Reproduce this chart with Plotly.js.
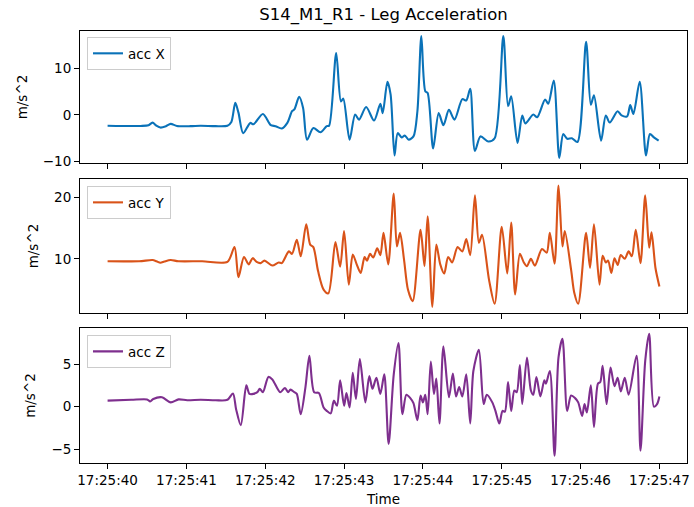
<!DOCTYPE html>
<html>
<head>
<meta charset="utf-8">
<script src="https://cdn.plot.ly/plotly-3.0.1.min.js"></script>
<style>html,body{margin:0;padding:0;background:#fff;}#chart{width:694px;height:507px;}</style>
</head>
<body>
<div id="chart"></div>
<script>
// seconds after 17:25:40
const tX = [0.00,0.42,0.52,0.57,0.62,0.67,0.74,0.80,0.88,1.05,1.18,1.37,1.52,1.57,1.62,1.66,1.72,1.81,1.85,1.97,2.07,2.13,2.21,2.28,2.34,2.37,2.43,2.48,2.53,2.61,2.70,2.78,2.81,2.90,2.96,2.99,3.07,3.14,3.19,3.28,3.38,3.46,3.49,3.55,3.59,3.64,3.68,3.73,3.77,3.82,3.88,3.93,3.98,4.03,4.06,4.13,4.20,4.26,4.33,4.40,4.50,4.55,4.60,4.66,4.73,4.83,4.91,5.02,5.08,5.12,5.20,5.26,5.30,5.40,5.45,5.55,5.59,5.66,5.73,5.78,5.83,5.89,5.96,6.07,6.13,6.17,6.26,6.32,6.37,6.47,6.52,6.59,6.63,6.67,6.75,6.83,6.88,6.93,6.99];
const accX = [-2.3,-2.35,-2.2,-1.65,-2.3,-2.7,-2.4,-1.9,-2.35,-2.4,-2.3,-2.4,-2.3,-1.5,2.6,0.5,-3.9,-1.7,-2.0,0.2,-2.2,-2.4,-2.9,-1.7,0.8,1.2,3.9,1.5,-5.3,-2.8,-3.7,-2.4,-2.3,13.3,2.9,3.5,-5.3,0.1,-1.0,1.7,-1.2,2.4,0.4,7.1,4.4,-8.7,-3.9,-4.8,-4.4,-5.3,-4.6,0.8,16.9,5.1,4.7,-7.2,0.4,-2.2,1.1,-1.0,3.4,3.1,5.6,-7.7,-4.6,-5.7,-5.0,16.9,1.9,4.0,-6.0,-0.1,-1.8,0.1,-0.5,3.3,2.4,7.4,-9.2,-4.1,-5.1,-5.0,-5.8,15.7,2.2,4.2,-5.5,-0.1,-1.6,0.8,-0.1,-0.3,2.1,0.2,7.1,-8.7,-4.1,-4.8,-5.5];

const tY = [0.00,0.40,0.57,0.62,0.67,0.72,0.80,0.90,1.20,1.52,1.61,1.66,1.73,1.79,1.84,1.89,1.94,1.99,2.09,2.17,2.21,2.30,2.34,2.40,2.45,2.52,2.57,2.61,2.67,2.74,2.80,2.89,2.95,3.00,3.06,3.11,3.16,3.21,3.26,3.29,3.33,3.37,3.42,3.46,3.50,3.56,3.63,3.67,3.71,3.76,3.81,3.87,3.97,4.02,4.06,4.12,4.17,4.22,4.27,4.32,4.37,4.44,4.50,4.55,4.60,4.66,4.71,4.75,4.84,4.91,5.00,5.07,5.12,5.17,5.23,5.28,5.32,5.37,5.42,5.51,5.57,5.61,5.67,5.72,5.77,5.80,5.88,5.92,5.97,6.07,6.12,6.17,6.24,6.28,6.32,6.35,6.39,6.43,6.47,6.51,6.56,6.61,6.65,6.70,6.76,6.82,6.87,6.90,6.95,7.00];
const accY = [9.6,9.6,9.8,9.6,9.35,9.55,9.8,9.6,9.6,9.5,11.9,7.0,10.3,9.1,10.1,9.5,9.3,9.7,8.9,9.4,9.3,11.2,10.8,13.1,10.4,15.6,12.3,11.9,8.0,5.0,4.4,12.7,8.7,14.5,5.8,10.7,9.1,7.7,10.3,9.7,10.8,10.2,11.7,10.6,14.2,9.1,20.6,12.0,14.2,9.9,5.0,3.1,14.7,8.8,16.9,2.2,12.3,9.1,7.6,10.3,9.4,11.9,11.2,13.2,10.6,20.3,12.6,13.9,6.5,2.7,15.2,7.6,15.9,4.2,10.8,9.4,8.8,10.0,8.9,11.6,11.0,14.2,9.2,21.9,12.0,14.5,8.2,4.5,2.7,14.2,8.5,15.6,5.8,10.5,9.4,9.7,7.7,10.1,9.0,10.6,10.0,11.2,10.4,14.7,9.3,20.3,11.8,14.3,8.5,5.5];

const tZ = [0.00,0.30,0.50,0.54,0.58,0.69,0.80,0.90,1.01,1.18,1.37,1.52,1.59,1.63,1.69,1.76,1.80,1.85,1.90,1.93,1.97,2.04,2.09,2.19,2.25,2.29,2.32,2.37,2.40,2.45,2.51,2.56,2.62,2.68,2.74,2.78,2.83,2.87,2.91,2.95,3.00,3.03,3.07,3.11,3.15,3.20,3.27,3.32,3.36,3.41,3.46,3.51,3.565,3.63,3.69,3.74,3.79,3.84,3.88,3.93,3.97,4.00,4.03,4.06,4.10,4.14,4.17,4.21,4.26,4.33,4.38,4.42,4.46,4.50,4.55,4.60,4.64,4.71,4.77,4.81,4.88,4.92,4.97,5.01,5.04,5.08,5.12,5.16,5.19,5.23,5.26,5.32,5.37,5.40,5.44,5.49,5.54,5.56,5.61,5.67,5.72,5.77,5.83,5.88,5.93,5.97,6.02,6.05,6.08,6.13,6.17,6.22,6.25,6.28,6.33,6.38,6.43,6.47,6.51,6.56,6.61,6.71,6.76,6.82,6.87,6.93,6.97,7.00];
const accZ = [0.7,0.8,0.85,0.6,0.9,1.1,0.5,0.85,0.75,0.8,0.75,0.8,1.55,-0.3,-2.2,2.5,1.5,1.5,1.7,2.1,1.7,3.5,3.2,1.7,2.2,1.7,2.0,1.7,1.5,-0.9,2.3,6.0,1.7,1.6,-0.1,-0.5,-0.8,0.7,0.1,3.1,0.1,1.6,-0.1,4.0,0.9,5.6,0.5,3.6,2.1,3.4,1.5,3.8,-4.4,3.8,7.5,-0.9,1.4,1.0,0.4,-1.6,1.3,0.5,1.4,-0.9,5.3,1.5,3.3,-2.0,7.1,1.1,3.9,1.2,2.3,1.2,3.8,-2.0,4.2,6.7,0.3,1.4,0.5,-0.5,-2.0,-0.5,-0.6,2.9,-0.5,1.9,1.7,4.9,0.3,5.8,1.9,1.4,3.5,1.2,3.1,2.7,4.2,-5.8,5.8,8.0,-0.5,1.3,1.0,0.5,-1.1,0.3,-0.7,2.5,-2.4,2.7,2.9,4.8,0.3,4.6,2.4,3.4,1.8,3.4,1.4,6.0,-5.2,5.4,8.6,0.0,0.3,1.2];

const seriesNames = ['acc X','acc Y','acc Z'];
const seriesColors = ['#0a72b8','#D95319','#7E2F8E'];
const tickLabelsY = [[-10,0,10],[10,20],[-5,0,5]];

const BASE = '2024-01-01 17:25:';
function ts(s){ return BASE + (40 + s).toFixed(3); }

const FONT = 'DejaVu Sans, sans-serif';
const times = [tX,tY,tZ], vals = [accX,accY,accZ];
const traces = vals.map((v,i)=>({
  x: times[i].map(ts), y: v, type:'scatter', mode:'lines',
  name: seriesNames[i],
  line:{color:seriesColors[i], width:2.1, shape:'spline', smoothing:0.8},
  xaxis: i===0?'x':'x'+(i+1), yaxis: i===0?'y':'y'+(i+1),
  legend: i===0?'legend':'legend'+(i+1)
}));

const xr = [ts(-0.35), ts(7.35)];
function xax(showLabels, anchor){
  return {range:xr, type:'date', tick0: ts(0), dtick:1000, tickformat:'%H:%M:%S',
    showticklabels:showLabels, ticks:'outside', ticklen:5, tickwidth:1, tickcolor:'#000',
    showline:true, mirror:true, linecolor:'#000', linewidth:1, showgrid:false, zeroline:false,
    anchor:anchor, tickfont:{family:FONT,size:13.5,color:'#000'}};
}
function yax(range, domain, ticks, anchor){
  return {range:range, domain:domain, tickvals:ticks, ticks:'outside', ticklen:5, tickwidth:1, tickcolor:'#000',
    showline:true, mirror:true, linecolor:'#000', linewidth:1, showgrid:false, zeroline:false,
    anchor:anchor, tickfont:{family:FONT,size:13.5,color:'#000'},
    title:{text:'m/s^2', font:{family:FONT,size:13.5,color:'#000'}, standoff:12}, automargin:false};
}
function leg(ytop){
  return {x:0.0115, y:ytop, xanchor:'left', yanchor:'top', bgcolor:'rgba(255,255,255,0.8)',
    bordercolor:'#cccccc', borderwidth:1, font:{family:FONT,size:13.5,color:'#000'},
    itemwidth:30, tracegroupgap:0};
}

const layout = {
  width:694, height:507,
  margin:{l:80, r:7, t:31, b:44},
  paper_bgcolor:'#fff', plot_bgcolor:'#fff',
  font:{family:FONT, color:'#000'},
  title:{text:'S14_M1_R1 - Leg Acceleration', font:{family:FONT,size:16.5,color:'#000'},
    x:0.5, xref:'paper', xanchor:'center', y:1-14/507, yref:'container', yanchor:'middle'},
  xaxis: xax(false,'y'),
  xaxis2: Object.assign(xax(false,'y2'), {matches:'x'}),
  xaxis3: Object.assign(xax(true,'y3'), {matches:'x', title:{text:'Time', font:{family:FONT,size:13.5,color:'#000'}, standoff:7}}),
  yaxis: yax([-10.3,18.0],[0.6944,1.0],tickLabelsY[0],'x'),
  yaxis2: yax([1.2,22.95],[0.3472,0.6574],tickLabelsY[1],'x2'),
  yaxis3: yax([-6.65,9.27],[0.0,0.3125],tickLabelsY[2],'x3'),
  showlegend:true,
  legend: leg(0.986),
  legend2: leg(0.641),
  legend3: leg(0.296)
};

Plotly.newPlot('chart', traces, layout, {displayModeBar:false, staticPlot:true});
</script>
</body>
</html>
